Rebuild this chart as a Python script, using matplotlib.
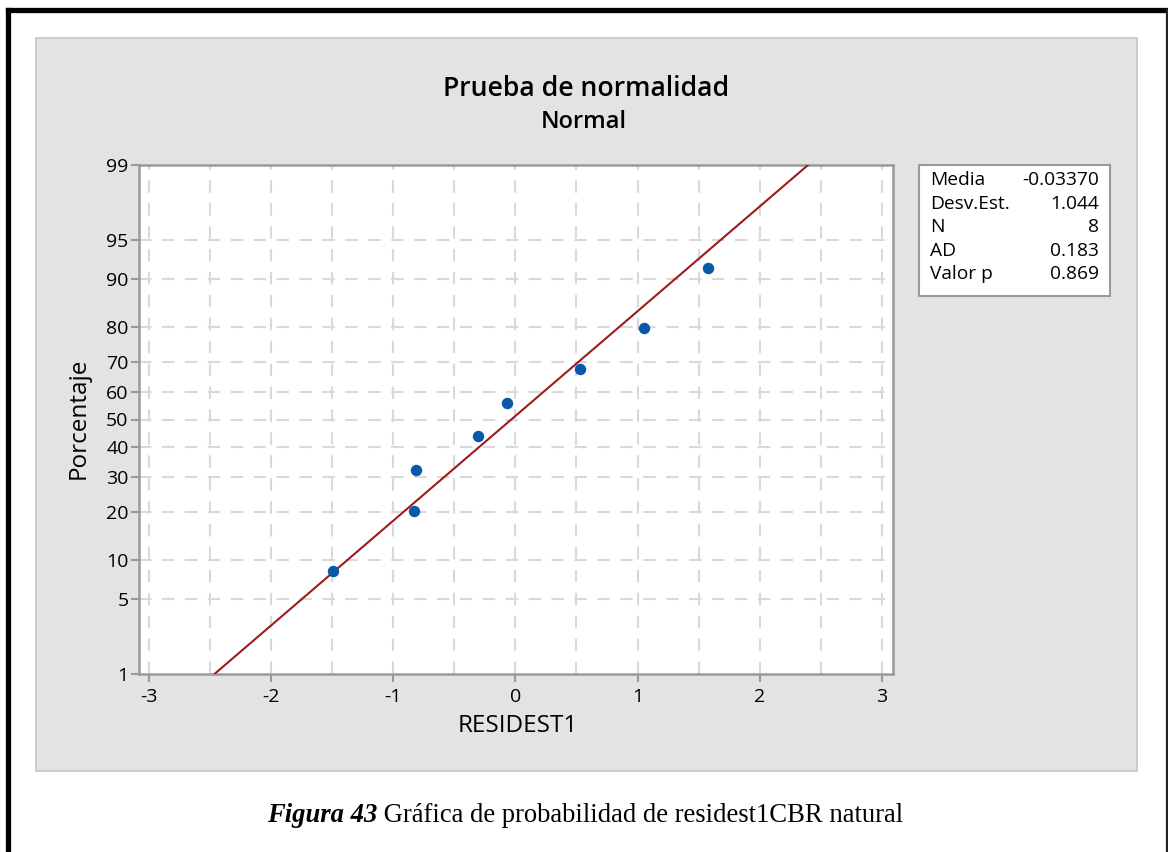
import math
import numpy as np
import matplotlib
matplotlib.use("Agg")
import matplotlib.pyplot as plt
from matplotlib.patches import Rectangle
from matplotlib.lines import Line2D

# ---------------- data ----------------
residuals = [-1.489, -0.826, -0.817, -0.304, -0.068, 0.532, 1.051, 1.579]
percentiles = [8.33, 20.24, 32.14, 44.05, 55.95, 67.86, 79.76, 91.67]
mean_val = -0.03370
sd_val = 1.044
stat_labels = ["Media", "Desv.Est.", "N", "AD", "Valor p"]
stat_values = ["-0.03370", "1.044", "8", "0.183", "0.869"]
y_ticks = [1, 5, 10, 20, 30, 40, 50, 60, 70, 80, 90, 95, 99]
x_ticks = [-3, -2, -1, 0, 1, 2, 3]
x_tick_labels = ["-3", "-2", "-1", "0", "1", "2", "3"]

FONT = ["Open Sans", "DejaVu Sans"]
SERIF = ["Liberation Serif", "DejaVu Serif"]


# -------------- normal helpers --------------
def _ppf_scalar(p):
    p = min(max(p, 1e-12), 1 - 1e-12)
    a = [-3.969683028665376e+01, 2.209460984245205e+02, -2.759285104469687e+02,
         1.383577518672690e+02, -3.066479806614716e+01, 2.506628277459239e+00]
    b = [-5.447609879822406e+01, 1.615858368580409e+02, -1.556989798598866e+02,
         6.680131188771972e+01, -1.328068155288572e+01]
    c = [-7.784894002430293e-03, -3.223964580411365e-01, -2.400758277161838e+00,
         -2.549732539343734e+00, 4.374664141464968e+00, 2.938163982698783e+00]
    d = [7.784695709041462e-03, 3.224671290700398e-01, 2.445134137142996e+00,
         3.754408661907416e+00]
    plow = 0.02425
    if p < plow:
        q = math.sqrt(-2 * math.log(p))
        x = (((((c[0]*q+c[1])*q+c[2])*q+c[3])*q+c[4])*q+c[5]) / ((((d[0]*q+d[1])*q+d[2])*q+d[3])*q+1)
    elif p > 1 - plow:
        q = math.sqrt(-2 * math.log(1 - p))
        x = -(((((c[0]*q+c[1])*q+c[2])*q+c[3])*q+c[4])*q+c[5]) / ((((d[0]*q+d[1])*q+d[2])*q+d[3])*q+1)
    else:
        q = p - 0.5
        r = q * q
        x = (((((a[0]*r+a[1])*r+a[2])*r+a[3])*r+a[4])*r+a[5])*q / (((((b[0]*r+b[1])*r+b[2])*r+b[3])*r+b[4])*r+1)
    e = 0.5 * math.erfc(-x / math.sqrt(2)) - p
    u = e * math.sqrt(2 * math.pi) * math.exp(x * x / 2)
    x = x - u / (1 + x * u / 2)
    return x


def fwd(pct):
    pct = np.asarray(pct, dtype=float)
    out = np.array([_ppf_scalar(v / 100.0) for v in pct.ravel()])
    return out.reshape(pct.shape)


def inv(z):
    z = np.asarray(z, dtype=float)
    out = np.array([50.0 * math.erfc(-v / math.sqrt(2)) for v in z.ravel()])
    return out.reshape(z.shape)


# -------------- figure --------------
W, H = 1168, 852
fig = plt.figure(figsize=(W / 100, H / 100), dpi=100)
fig.patch.set_facecolor("white")

# outer black frame (left + top), thinner right edge
fig.add_artist(Line2D([7.5 / W, 7.5 / W], [0, 1 - 9.5 / H], transform=fig.transFigure,
                      color="black", lw=3.8, solid_capstyle="projecting"))
fig.add_artist(Line2D([7.5 / W, 1.0], [1 - 9.5 / H, 1 - 9.5 / H], transform=fig.transFigure,
                      color="black", lw=3.8, solid_capstyle="projecting"))
fig.add_artist(Line2D([1166.5 / W, 1166.5 / W], [0, 1 - 9.5 / H], transform=fig.transFigure,
                      color="#222222", lw=1.6))

# gray panel
fig.add_artist(Rectangle((36 / W, 1 - 771 / H), (1137 - 36) / W, (771 - 38) / H,
                         transform=fig.transFigure, facecolor="#e3e3e3",
                         edgecolor="#c6c6c6", linewidth=1.2, zorder=0))

ax = fig.add_axes([139 / W, 1 - 674 / H, (893 - 139) / W, (674 - 165) / H])
ax.set_facecolor("white")
ax.set_yscale("function", functions=(fwd, inv))
ax.set_xlim(-3.08, 3.09)
ax.set_ylim(1, 99)

# grid
for gx in np.arange(-3, 3.01, 0.5):
    ax.axvline(gx, color="#d9d9d9", lw=1.5, dashes=(6, 5), zorder=1)
for gy in y_ticks[1:-1]:
    ax.axhline(gy, color="#d9d9d9", lw=1.5, dashes=(6, 5), zorder=1)

# fitted line
z_lo, z_hi = fwd([1.0, 99.0])
xs = np.linspace(mean_val + sd_val * z_lo, mean_val + sd_val * z_hi, 200)
ys = inv((xs - mean_val) / sd_val)
ax.plot(xs, ys, color="#9e1b1b", lw=1.5, zorder=3)

# points
ax.scatter(residuals, percentiles, s=68, color="#0a58a8", zorder=4, linewidths=0)

ax.set_yticks(y_ticks)
ax.set_yticklabels([str(v) for v in y_ticks])
ax.set_xticks(x_ticks)
ax.set_xticklabels(x_tick_labels)
ax.minorticks_off()
for s in ax.spines.values():
    s.set_color("#9a9a9a")
    s.set_linewidth(1.8)
ax.tick_params(axis="both", colors="#9a9a9a", length=6, width=1.5,
               labelcolor="black", labelsize=14)
ax.tick_params(axis="x", pad=4)
ax.tick_params(axis="y", pad=1.5)
for lab in ax.get_xticklabels() + ax.get_yticklabels():
    lab.set_family(FONT)

ax.set_xlabel("RESIDEST1", fontsize=17.5, family=FONT)
ax.set_ylabel("Porcentaje", fontsize=17.5, family=FONT)
ax.xaxis.label.set_va("center")
ax.yaxis.label.set_va("center")
ax.xaxis.set_label_coords((518 - 139) / 754, (674 - 726) / 509)
ax.yaxis.set_label_coords((79 - 139) / 754, (674 - 418) / 509)

# titles
fig.text(586 / W, 1 - 89 / H, "Prueba de normalidad", ha="center", va="center",
         fontsize=19.2, fontweight="semibold", family=FONT)
fig.text(584 / W, 1 - 122 / H, "Normal", ha="center", va="center",
         fontsize=17, fontweight="semibold", family=FONT)

# stats box
fig.add_artist(Rectangle((919 / W, 1 - 296 / H), (1110 - 919) / W, (296 - 165) / H,
                         transform=fig.transFigure, facecolor="white",
                         edgecolor="#9a9a9a", linewidth=1.5, zorder=2))
for i, (lab, val) in enumerate(zip(stat_labels, stat_values)):
    yy = 1 - (180 + i * 23.6) / H
    fig.text(930 / W, yy, lab, ha="left", va="center", fontsize=13.8,
             family=FONT, zorder=3)
    fig.text(1099 / W, yy, val, ha="right", va="center", fontsize=13.8,
             family=FONT, zorder=3)

# caption
t1 = fig.text(267 / W, 1 - 816 / H, "Figura 43", ha="left", va="center",
              fontsize=19.2, fontweight="bold", fontstyle="italic", family=SERIF)
ax.annotate(" Gráfica de probabilidad de residest1CBR natural",
            xy=(1, 0), xycoords=t1, va="bottom", ha="left",
            fontsize=19.2, family=SERIF, annotation_clip=False)

fig.savefig("out.png", dpi=100, facecolor="white")
